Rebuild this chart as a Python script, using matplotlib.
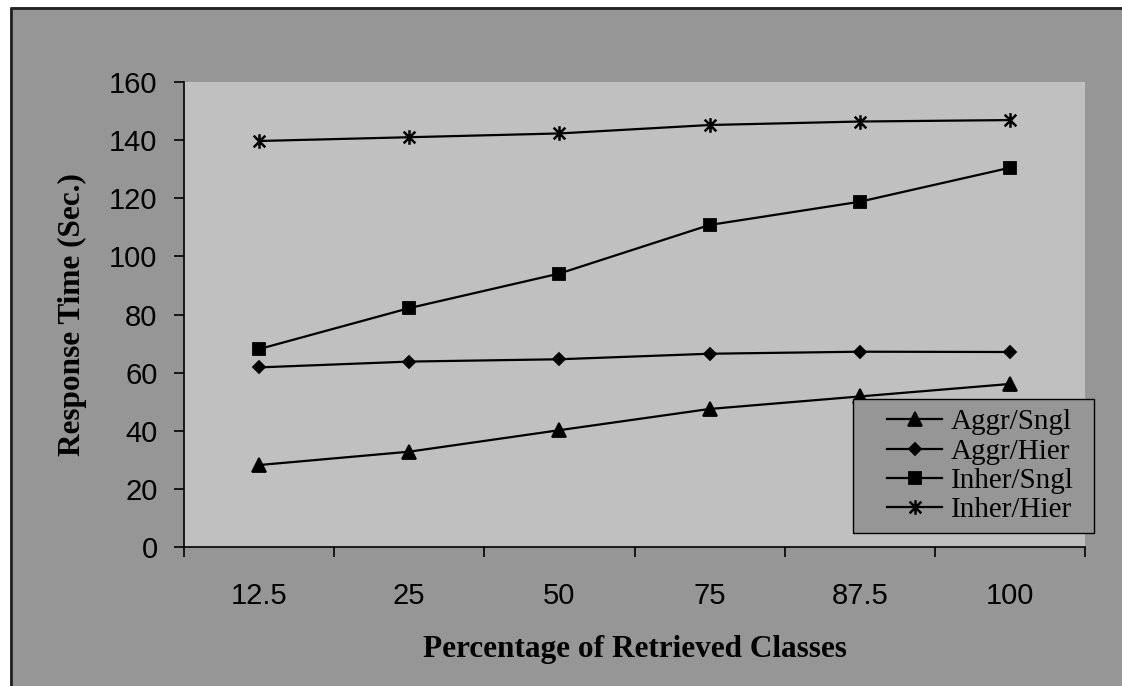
import matplotlib
matplotlib.use('Agg')
from matplotlib import pyplot as plt
from matplotlib.path import Path
from matplotlib.patches import Rectangle
from matplotlib.lines import Line2D

# response times (seconds) per percentage of retrieved classes
categories = ['12.5', '25', '50', '75', '87.5', '100']
aggr_sngl = [28.2, 32.8, 40.2, 47.5, 51.8, 56.1]
aggr_hier = [61.8, 63.8, 64.6, 66.5, 67.2, 67.1]
inher_sngl = [68.1, 82.2, 94.1, 110.8, 118.8, 130.5]
inher_hier = [139.7, 141.0, 142.3, 145.2, 146.4, 146.9]

W, H = 1122, 686

# asterisk marker: vertical bar plus an X
star = Path([(0, -1), (0, 1), (-0.8, -0.8), (0.8, 0.8), (-0.8, 0.8), (0.8, -0.8)],
            [Path.MOVETO, Path.LINETO] * 3)

fig = plt.figure(figsize=(W / 100, H / 100), dpi=100)
fig.patch.set_facecolor('#969696')
# white margin on the left and top, with a dark frame line
fig.patches.append(Rectangle((0, 0), 10 / W, 1, transform=fig.transFigure,
                             facecolor='white', edgecolor='none', zorder=-2))
fig.patches.append(Rectangle((0, 1 - 7 / H), 1, 7 / H, transform=fig.transFigure,
                             facecolor='white', edgecolor='none', zorder=-2))
fig.lines.append(Line2D([10.5 / W, 10.5 / W, 1.0], [0, 1 - 7.5 / H, 1 - 7.5 / H],
                        transform=fig.transFigure, color='#222222', linewidth=2, zorder=-1))

ax = fig.add_axes([184 / W, 1 - 547 / H, (1085 - 184) / W, (547 - 82) / H])
ax.set_facecolor('#c0c0c0')

x = list(range(len(categories)))
style = dict(color='black', linewidth=1.6, markeredgewidth=1.3, clip_on=False)
ax.plot(x, aggr_sngl, marker='^', markersize=9.5, label='Aggr/Sngl', **style)
ax.plot(x, aggr_hier, marker='D', markersize=6.5, label='Aggr/Hier', **style)
ax.plot(x, inher_sngl, marker='s', markersize=8.2, label='Inher/Sngl', **style)
ax.plot(x, inher_hier, marker=star, markersize=10.5, label='Inher/Hier',
        color='black', linewidth=1.6, markeredgewidth=1.8, clip_on=False)

ax.set_xlim(-0.5, len(categories) - 0.5)
ax.set_ylim(0, 160)
ax.set_yticks(range(0, 161, 20))
ax.set_xticks([i - 0.5 for i in range(len(categories) + 1)])
ax.set_xticklabels([])
ax.set_xticks(x, minor=True)
ax.set_xticklabels(categories, minor=True)

for s in ['top', 'right']:
    ax.spines[s].set_visible(False)
for s in ['left', 'bottom']:
    ax.spines[s].set_linewidth(1.2)

ax.tick_params(axis='y', direction='out', length=7, width=1.2, pad=12,
               labelsize=21, labelfontfamily='Liberation Sans')
ax.tick_params(axis='x', which='major', direction='out', length=7, width=1.2)
ax.tick_params(axis='x', which='minor', length=0, pad=25,
               labelsize=21, labelfontfamily='Liberation Sans')

label_font = dict(family='Liberation Serif', weight='bold', size=22.5)
ax.set_xlabel('Percentage of Retrieved Classes', labelpad=18, **label_font)
ax.set_ylabel('Response Time (Sec.)', labelpad=16, **label_font)

# legend box drawn over the plot area
fig.patches.append(Rectangle((853 / W, 1 - 533 / H), (1094 - 853) / W, (533 - 399) / H,
                             transform=fig.transFigure, facecolor='#969696',
                             edgecolor='black', linewidth=1.0, zorder=2))
handles, labels = ax.get_legend_handles_labels()
leg = fig.legend(handles, labels, loc='upper left', bbox_to_anchor=(887 / W, 1 - 409 / H),
                 prop=dict(family='Liberation Serif', size=21), frameon=False,
                 borderpad=0, labelspacing=0.1, handlelength=1.9, handletextpad=0.3,
                 borderaxespad=0)
leg.set_zorder(5)

plt.savefig('out.png', dpi=100)
